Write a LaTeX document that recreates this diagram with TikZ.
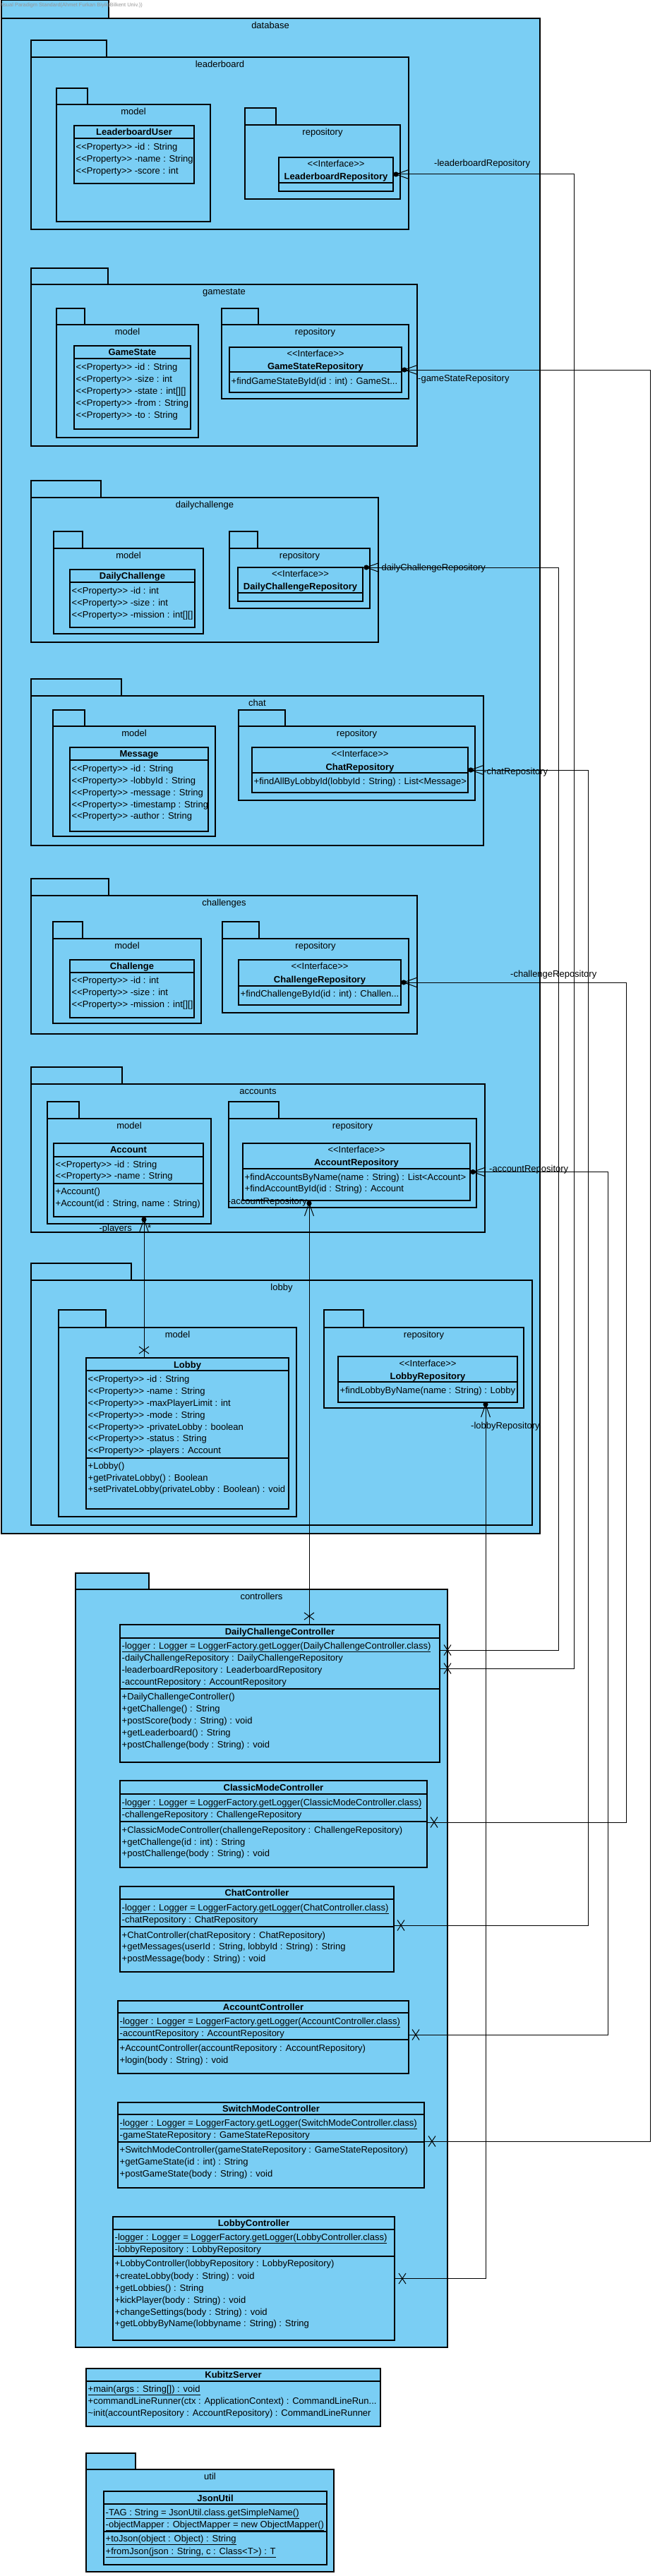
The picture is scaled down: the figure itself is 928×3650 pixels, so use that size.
\documentclass[tikz,border=0pt]{standalone}
\usepackage{fontspec}
\newfontfamily\umlfont{Liberation Sans}
\usetikzlibrary{calc}
\definecolor{umlblue}{RGB}{122,206,244}
\definecolor{wmgray}{RGB}{150,150,150}
\newcounter{tnum}
\tikzset{
  pkgbox/.style={draw=black, fill=umlblue, line width=1.1pt},
  clsbox/.style={draw=black, fill=umlblue, line width=1.3pt, inner sep=0pt, outer sep=0pt, anchor=north west},
  divline/.style={draw=black, line width=1.3pt},
  conn/.style={draw=black, line width=1pt},
  txt/.style={anchor=base west, inner sep=0pt, font=\umlfont\fontsize{13}{15}\selectfont},
  ctxt/.style={anchor=base, inner sep=0pt, font=\umlfont\fontsize{13}{15}\selectfont},
  btxt/.style={anchor=base, inner sep=0pt, font=\umlfont\fontsize{13}{15}\selectfont\bfseries},
}
\newcommand\tx[3]{\stepcounter{tnum}\node[txt] (t\arabic{tnum}) at ({#1},{#2+4.5}) {#3};}
\newcommand\ctx[3]{\stepcounter{tnum}\node[ctxt] (t\arabic{tnum}) at ({#1},{#2+4.5}) {#3};}
\newcommand\btx[3]{\stepcounter{tnum}\node[btxt] (t\arabic{tnum}) at ({#1},{#2+4.5}) {#3};}
\newcommand\umlpkg[7]{\draw[pkgbox] (#1,#2) rectangle (#3,#4);\draw[pkgbox] (#1,#4) rectangle (#5,#6);\ctx{(#1+#5)/2}{#4+10}{#7}}
\newcommand\umlcls[5]{\node[clsbox, minimum width={#4pt-#2pt}, minimum height={#5pt-#3pt}] (#1) at (#2,#3) {};}
\newcommand\hdiv[3]{\draw[divline] (#1,#3) -- (#2,#3);}
\newcommand\suph[1]{\fill (#1) circle (3.6pt);\draw[conn] ($(#1)+(18,-6.5)$) -- (#1) -- ($(#1)+(18,6.5)$);}
\newcommand\supv[1]{\fill (#1) circle (3.6pt);\draw[conn] ($(#1)+(-6.5,18)$) -- (#1) -- ($(#1)+(6.5,18)$);}
\newcommand\xh[1]{\draw[conn] ($(#1)+(-5,-7.5)$) -- ($(#1)+(5,7.5)$) ($(#1)+(5,-7.5)$) -- ($(#1)+(-5,7.5)$);}
\newcommand\xv[1]{\draw[conn] ($(#1)+(-7,-5)$) -- ($(#1)+(7,5)$) ($(#1)+(7,-5)$) -- ($(#1)+(-7,5)$);}
\begin{document}
\begin{tikzpicture}[x=1pt, y=-1pt]
\useasboundingbox (0,0) rectangle (928,3650);
% database
\draw[pkgbox] (2,0.6) rectangle (154,26);
\draw[pkgbox] (2,26) rectangle (765,2173);
\node[anchor=base west, inner sep=0pt, font=\umlfont\fontsize{7.5}{9}\selectfont, text=wmgray] (wm) at (-1.5,10) {Visual Paradigm Standard(Ahmet Furkan Biyik(Bilkent Univ.))};
\ctx{383}{36}{database}
% leaderboard
\umlpkg{44}{57}{151}{81}{579}{325}{leaderboard}
\umlpkg{80}{125}{124}{148}{298}{314}{model}
\umlcls{LU}{105}{178}{275}{260}
\hdiv{105}{275}{196}
\btx{190}{187}{LeaderboardUser}
\tx{107.5}{208}{<<Property>> -id : String}
\tx{107.5}{225}{<<Property>> -name : String}
\tx{107.5}{242}{<<Property>> -score : int}
\umlpkg{347}{153}{391}{177}{567}{282}{repository}
\umlcls{LR}{395}{223}{557}{271}
\hdiv{395}{557}{259}
\ctx{476}{232}{<<Interface>>}
\btx{476}{250}{LeaderboardRepository}
% gamestate
\umlpkg{44}{380}{153}{403}{591}{632}{gamestate}
\umlpkg{80}{437}{120}{460}{281}{620}{model}
\umlcls{GS}{105}{490}{270}{608}
\hdiv{105}{270}{508}
\btx{187.5}{499}{GameState}
\tx{107.5}{520}{<<Property>> -id : String}
\tx{107.5}{537}{<<Property>> -size : int}
\tx{107.5}{554}{<<Property>> -state : int[][]}
\tx{107.5}{571}{<<Property>> -from : String}
\tx{107.5}{588}{<<Property>> -to : String}
\umlpkg{314}{437}{366}{460}{579}{565}{repository}
\umlcls{GSR}{325}{492}{569}{556}
\hdiv{325}{569}{527}
\ctx{447}{501}{<<Interface>>}
\btx{447}{519}{GameStateRepository}
\tx{327.5}{540}{+findGameStateById(id : int) : GameSt...}
% dailychallenge
\umlpkg{44}{681}{143}{705}{536}{910}{dailychallenge}
\umlpkg{76}{753}{117}{777}{288}{898}{model}
\umlcls{DC}{99}{807}{276}{889}
\hdiv{99}{276}{825}
\btx{187.5}{816}{DailyChallenge}
\tx{101.5}{837}{<<Property>> -id : int}
\tx{101.5}{854}{<<Property>> -size : int}
\tx{101.5}{871}{<<Property>> -mission : int[][]}
\umlpkg{325}{753}{365}{777}{524}{862}{repository}
\umlcls{DCR}{337}{804}{514}{852}
\hdiv{337}{514}{840}
\ctx{425.5}{813}{<<Interface>>}
\btx{425.5}{831}{DailyChallengeRepository}
% chat
\umlpkg{44}{962}{172}{986}{685}{1198}{chat}
\umlpkg{75}{1006}{120}{1029}{305}{1185}{model}
\umlcls{Msg}{99}{1059}{295}{1178}
\hdiv{99}{295}{1077}
\btx{197}{1068}{Message}
\tx{101.5}{1089}{<<Property>> -id : String}
\tx{101.5}{1106}{<<Property>> -lobbyId : String}
\tx{101.5}{1123}{<<Property>> -message : String}
\tx{101.5}{1140}{<<Property>> -timestamp : String}
\tx{101.5}{1156}{<<Property>> -author : String}
\umlpkg{338}{1006}{404}{1029}{673}{1134}{repository}
\umlcls{ChatR}{357}{1059}{663}{1123}
\hdiv{357}{663}{1095}
\ctx{510}{1068}{<<Interface>>}
\btx{510}{1087}{ChatRepository}
\tx{359.5}{1107}{+findAllByLobbyId(lobbyId : String) : List<Message>}
% challenges
\umlpkg{44}{1245}{154}{1269}{591}{1465}{challenges}
\umlpkg{75}{1306}{117}{1330}{285}{1450}{model}
\umlcls{Chal}{99}{1360}{275}{1442}
\hdiv{99}{275}{1378}
\btx{187}{1369}{Challenge}
\tx{101.5}{1389}{<<Property>> -id : int}
\tx{101.5}{1406}{<<Property>> -size : int}
\tx{101.5}{1423}{<<Property>> -mission : int[][]}
\umlpkg{315}{1306}{367}{1330}{579}{1435}{repository}
\umlcls{ChalR}{338}{1360}{568}{1424}
\hdiv{338}{568}{1397}
\ctx{453}{1369}{<<Interface>>}
\btx{453}{1388}{ChallengeRepository}
\tx{340.5}{1408}{+findChallengeById(id : int) : Challen...}
% accounts
\umlpkg{44}{1512}{173}{1536}{687}{1746}{accounts}
\umlpkg{67}{1561}{112}{1585}{299}{1734}{model}
\umlcls{Acc}{76}{1620}{288}{1724}
\hdiv{76}{288}{1639}
\hdiv{76}{288}{1677}
\btx{182}{1629}{Account}
\tx{78.5}{1650}{<<Property>> -id : String}
\tx{78.5}{1666}{<<Property>> -name : String}
\tx{78.5}{1688}{+Account()}
\tx{78.5}{1705}{+Account(id : String, name : String)}
\umlpkg{324}{1561}{395}{1585}{675}{1711}{repository}
\umlcls{AccR}{344}{1620}{666}{1701}
\hdiv{344}{666}{1656}
\ctx{505}{1629}{<<Interface>>}
\btx{505}{1647}{AccountRepository}
\tx{346.5}{1668}{+findAccountsByName(name : String) : List<Account>}
\tx{346.5}{1684}{+findAccountById(id : String) : Account}
% lobby
\umlpkg{44}{1790}{186}{1814}{754}{2161}{lobby}
\umlpkg{83}{1856}{150}{1881}{420}{2149}{model}
\umlcls{Lobby}{122}{1924}{409}{2138}
\hdiv{122}{409}{1942}
\hdiv{122}{409}{2066}
\btx{265.5}{1934}{Lobby}
\tx{124.5}{1954}{<<Property>> -id : String}
\tx{124.5}{1971}{<<Property>> -name : String}
\tx{124.5}{1988}{<<Property>> -maxPlayerLimit : int}
\tx{124.5}{2005}{<<Property>> -mode : String}
\tx{124.5}{2022}{<<Property>> -privateLobby : boolean}
\tx{124.5}{2038}{<<Property>> -status : String}
\tx{124.5}{2055}{<<Property>> -players : Account}
\tx{124.5}{2077}{+Lobby()}
\tx{124.5}{2094}{+getPrivateLobby() : Boolean}
\tx{124.5}{2110}{+setPrivateLobby(privateLobby : Boolean) : void}
\umlpkg{459}{1856}{515}{1881}{742}{1995}{repository}
\umlcls{LobR}{479}{1922}{733}{1987}
\hdiv{479}{733}{1958}
\ctx{606}{1932}{<<Interface>>}
\btx{606}{1950}{LobbyRepository}
\tx{481.5}{1970}{+findLobbyByName(name : String) : Lobby}
% controllers
\umlpkg{107}{2229}{211}{2252}{634}{3326}{controllers}
\umlcls{DCC}{170}{2302}{623}{2497}
\hdiv{170}{623}{2321}
\hdiv{170}{623}{2393}
\btx{396.5}{2312}{DailyChallengeController}
\tx{172.5}{2332}{\underline{-logger : Logger = LoggerFactory.getLogger(DailyChallengeController.class)}}
\tx{172.5}{2349}{-dailyChallengeRepository : DailyChallengeRepository}
\tx{172.5}{2366}{-leaderboardRepository : LeaderboardRepository}
\tx{172.5}{2383}{-accountRepository : AccountRepository}
\tx{172.5}{2404}{+DailyChallengeController()}
\tx{172.5}{2421}{+getChallenge() : String}
\tx{172.5}{2438}{+postScore(body : String) : void}
\tx{172.5}{2455}{+getLeaderboard() : String}
\tx{172.5}{2472}{+postChallenge(body : String) : void}
\umlcls{CMC}{170}{2523}{605}{2646}
\hdiv{170}{605}{2542}
\hdiv{170}{605}{2581}
\btx{387.5}{2533}{ClassicModeController}
\tx{172.5}{2554}{\underline{-logger : Logger = LoggerFactory.getLogger(ClassicModeController.class)}}
\tx{172.5}{2571}{-challengeRepository : ChallengeRepository}
\tx{172.5}{2593}{+ClassicModeController(challengeRepository : ChallengeRepository)}
\tx{172.5}{2610}{+getChallenge(id : int) : String}
\tx{172.5}{2626}{+postChallenge(body : String) : void}
\umlcls{CC}{170}{2673}{558}{2794}
\hdiv{170}{558}{2691}
\hdiv{170}{558}{2730}
\btx{364}{2682}{ChatController}
\tx{172.5}{2703}{\underline{-logger : Logger = LoggerFactory.getLogger(ChatController.class)}}
\tx{172.5}{2720}{-chatRepository : ChatRepository}
\tx{172.5}{2742}{+ChatController(chatRepository : ChatRepository)}
\tx{172.5}{2758}{+getMessages(userId : String, lobbyId : String) : String}
\tx{172.5}{2775}{+postMessage(body : String) : void}
\umlcls{AC}{167}{2835}{579}{2938}
\hdiv{167}{579}{2852}
\hdiv{167}{579}{2890}
\btx{373}{2844}{AccountController}
\tx{169.5}{2864}{\underline{-logger : Logger = LoggerFactory.getLogger(AccountController.class)}}
\tx{169.5}{2881}{-accountRepository : AccountRepository}
\tx{169.5}{2902}{+AccountController(accountRepository : AccountRepository)}
\tx{169.5}{2919}{+login(body : String) : void}
\umlcls{SMC}{167}{2979}{601}{3100}
\hdiv{167}{601}{2996}
\hdiv{167}{601}{3035}
\btx{384}{2988}{SwitchModeController}
\tx{169.5}{3008}{\underline{-logger : Logger = LoggerFactory.getLogger(SwitchModeController.class)}}
\tx{169.5}{3025}{-gameStateRepository : GameStateRepository}
\tx{169.5}{3046}{+SwitchModeController(gameStateRepository : GameStateRepository)}
\tx{169.5}{3063}{+getGameState(id : int) : String}
\tx{169.5}{3080}{+postGameState(body : String) : void}
\umlcls{LobC}{160}{3141}{559}{3316}
\hdiv{160}{559}{3159}
\hdiv{160}{559}{3197}
\btx{359.5}{3150}{LobbyController}
\tx{162.5}{3170}{\underline{-logger : Logger = LoggerFactory.getLogger(LobbyController.class)}}
\tx{162.5}{3187}{-lobbyRepository : LobbyRepository}
\tx{162.5}{3207}{+LobbyController(lobbyRepository : LobbyRepository)}
\tx{162.5}{3225}{+createLobby(body : String) : void}
\tx{162.5}{3242}{+getLobbies() : String}
\tx{162.5}{3259}{+kickPlayer(body : String) : void}
\tx{162.5}{3276}{+changeSettings(body : String) : void}
\tx{162.5}{3292}{+getLobbyByName(lobbyname : String) : String}
% KubitzServer
\umlcls{KS}{122}{3356}{539}{3438}
\hdiv{122}{539}{3374}
\btx{330.5}{3365}{KubitzServer}
\tx{124.5}{3385}{\underline{+main(args : String[]) : void}}
\tx{124.5}{3402}{+commandLineRunner(ctx : ApplicationContext) : CommandLineRun...}
\tx{124.5}{3419}{\textasciitilde init(accountRepository : AccountRepository) : CommandLineRunner}
% util
\umlpkg{122}{3476}{192}{3499}{473}{3644}{util}
\umlcls{JU}{147}{3530}{463}{3634}
\hdiv{147}{463}{3548}
\hdiv{147}{463}{3587}
\btx{305}{3540}{JsonUtil}
\tx{149.5}{3560}{\underline{-TAG : String = JsonUtil.class.getSimpleName()}}
\tx{149.5}{3577}{\underline{-objectMapper : ObjectMapper = new ObjectMapper()}}
\tx{149.5}{3597}{\underline{+toJson(object : Object) : String}}
\tx{149.5}{3615}{\underline{+fromJson(json : String, c : Class<T>) : T}}
% ---------- connectors ----------
% leaderboard
\coordinate (lbS) at ($(LR.east)+(4,0)$);
\coordinate (lbE) at ($(DCC.north east)+(0,62)$);
\draw[conn] (LR.east) -| ($(lbE)+(190,0)$) -- (lbE);
\suph{lbS}
\xh{$(lbE)+(11,0)$}
\node[txt] (l1) at (615,235.5) {-leaderboardRepository};
% gamestate
\coordinate (gsS) at ($(GSR.east)+(4,0)$);
\coordinate (gsE) at ($(SMC.north east)+(0,55)$);
\draw[conn] (GSR.east) -| ($(gsE)+(320,0)$) -- (gsE);
\suph{gsS}
\xh{$(gsE)+(11,0)$}
\node[txt] (l2) at (592,540.5) {-gameStateRepository};
% dailychallenge
\coordinate (dcS) at ($(DCR.north east)+(5,0)$);
\coordinate (dcE) at ($(DCC.north east)+(0,36)$);
\draw[conn] (DCR.north east) -| ($(dcE)+(168,0)$) -- (dcE);
\suph{dcS}
\xh{$(dcE)+(11,0)$}
\node[txt] (l3) at (536,808.5) {-dailyChallengeRepository};
% chat
\coordinate (chS) at ($(ChatR.east)+(4,0)$);
\coordinate (chE) at ($(CC.north east)+(0,55)$);
\draw[conn] (ChatR.east) -| ($(chE)+(275,0)$) -- (chE);
\suph{chS}
\xh{$(chE)+(10,0)$}
\node[txt] (l4) at (685,1097.5) {-chatRepository};
% challenge
\coordinate (cgS) at ($(ChalR.east)+(4,0)$);
\coordinate (cgE) at ($(CMC.north east)+(0,59)$);
\draw[conn] (ChalR.east) -| ($(cgE)+(282,0)$) -- (cgE);
\suph{cgS}
\xh{$(cgE)+(10,0)$}
\node[txt] (l5) at (723,1384.5) {-challengeRepository};
% account
\coordinate (acS) at ($(AccR.east)+(4,0)$);
\coordinate (acE) at ($(AC.north east)+(0,48)$);
\draw[conn] (AccR.east) -| ($(acE)+(282,0)$) -- (acE);
\suph{acS}
\xh{$(acE)+(10,0)$}
\node[txt] (l6) at (693,1660.5) {-accountRepository};
% DailyChallengeController -> AccountRepository
\coordinate (daT) at ($(DCC.north west)+(268,0)$);
\coordinate (daB) at (daT |- AccR.south);
\draw[conn] (daT) -- (daB);
\supv{$(daB)+(0,4)$}
\xv{$(daT)+(0,-12)$}
\node[anchor=base east, inner sep=0pt, font=\umlfont\fontsize{13}{15}\selectfont] (l7) at (435,1706.5) {-accountRepository};
% players
\coordinate (plT) at ($(Lobby.north west)+(82,0)$);
\coordinate (plB) at (plT |- Acc.south);
\draw[conn] (plT) -- (plB);
\supv{$(plB)+(0,4)$}
\xv{$(plT)+(0,-11)$}
\node[anchor=base east, inner sep=0pt, font=\umlfont\fontsize{13}{15}\selectfont] (l8) at (187,1744.5) {-players};
\node[anchor=base west, inner sep=0pt, font=\umlfont\fontsize{13}{15}\selectfont] (l9) at (209,1744.5) {*};
% lobby
\coordinate (lrB) at ($(LobR.south west)+(209,0)$);
\draw[conn] (LobC.east) -| (lrB);
\supv{$(lrB)+(0,3)$}
\xh{$(LobC.east)+(11,0)$}
\node[txt] (l10) at (667,2024.5) {-lobbyRepository};
\end{tikzpicture}
\end{document}
